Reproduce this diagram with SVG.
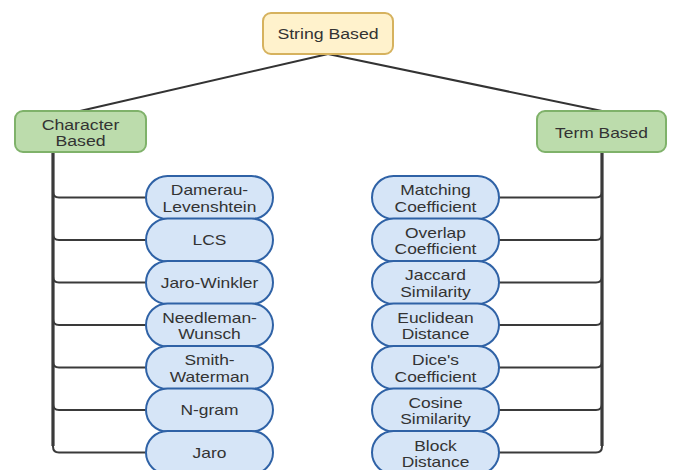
<svg xmlns="http://www.w3.org/2000/svg" width="673" height="470" viewBox="0 0 673 470">
<style>
.t{font-family:"Liberation Sans",Arial,sans-serif;font-size:15px;fill:#333;text-anchor:middle}
.root{fill:#fff2cc;stroke:#d6b25e;stroke-width:2}
.mid{fill:#bcdcac;stroke:#7fb26a;stroke-width:2}
.leaf{fill:#d6e5f7;stroke:#2f62a6;stroke-width:2}
.edge{fill:none;stroke:#333;stroke-width:2}
.br{fill:none;stroke:#3a3a3a;stroke-width:2}
.trunk{fill:none;stroke:#111;stroke-width:3}
</style>
<rect width="673" height="470" fill="#fff"/>
<g id="connectors">
<path class="edge" d="M328,54 L80,111"/>
<path class="edge" d="M328,54 L602,111"/>
<path class="trunk" d="M53,152 V446"/>
<path class="trunk" d="M602,152 V446"/>
<path class="br" d="M53,152 V191.5 Q53,197.5 59,197.5 H146"/>
<path class="br" d="M53,152 V234 Q53,240 59,240 H146"/>
<path class="br" d="M53,152 V276.5 Q53,282.5 59,282.5 H146"/>
<path class="br" d="M53,152 V319 Q53,325 59,325 H146"/>
<path class="br" d="M53,152 V361.5 Q53,367.5 59,367.5 H146"/>
<path class="br" d="M53,152 V404 Q53,410 59,410 H146"/>
<path class="br" d="M53,152 V446.5 Q53,452.5 59,452.5 H146"/>
<path class="br" d="M602,152 V191.5 Q602,197.5 596,197.5 H499"/>
<path class="br" d="M602,152 V234 Q602,240 596,240 H499"/>
<path class="br" d="M602,152 V276.5 Q602,282.5 596,282.5 H499"/>
<path class="br" d="M602,152 V319 Q602,325 596,325 H499"/>
<path class="br" d="M602,152 V361.5 Q602,367.5 596,367.5 H499"/>
<path class="br" d="M602,152 V404 Q602,410 596,410 H499"/>
<path class="br" d="M602,152 V446.5 Q602,452.5 596,452.5 H499"/>
</g>
<g id="string-based">
<rect class="root" x="263" y="13" width="130" height="41" rx="8"/>
<text class="t" transform="translate(328,0) scale(1.18,1)" x="0" y="39.5">String Based</text>
</g>
<g id="character-based">
<rect class="mid" x="15" y="111" width="131" height="41" rx="8"/>
<text class="t" transform="translate(80.5,0) scale(1.18,1)" x="0" y="130">Character</text>
<text class="t" transform="translate(80.5,0) scale(1.18,1)" x="0" y="146.5">Based</text>
</g>
<g id="term-based">
<rect class="mid" x="537" y="111" width="129" height="41" rx="8"/>
<text class="t" transform="translate(601.5,0) scale(1.16,1)" x="0" y="138">Term Based</text>
</g>
<g id="damerau-levenshtein">
<rect class="leaf" x="146" y="176" width="127" height="43" rx="21.5"/>
<text class="t" transform="translate(209.5,0) scale(1.16,1)" x="0" y="195.5">Damerau-</text>
<text class="t" transform="translate(209.5,0) scale(1.16,1)" x="0" y="212.5">Levenshtein</text>
</g>
<g id="lcs">
<rect class="leaf" x="146" y="218.5" width="127" height="43" rx="21.5"/>
<text class="t" transform="translate(209.5,0) scale(1.16,1)" x="0" y="245.5">LCS</text>
</g>
<g id="jaro-winkler">
<rect class="leaf" x="146" y="261" width="127" height="43" rx="21.5"/>
<text class="t" transform="translate(209.5,0) scale(1.16,1)" x="0" y="288">Jaro-Winkler</text>
</g>
<g id="needleman-wunsch">
<rect class="leaf" x="146" y="303.5" width="127" height="43" rx="21.5"/>
<text class="t" transform="translate(209.5,0) scale(1.16,1)" x="0" y="323">Needleman-</text>
<text class="t" transform="translate(209.5,0) scale(1.16,1)" x="0" y="339.5">Wunsch</text>
</g>
<g id="smith-waterman">
<rect class="leaf" x="146" y="346" width="127" height="43" rx="21.5"/>
<text class="t" transform="translate(209.5,0) scale(1.16,1)" x="0" y="365.5">Smith-</text>
<text class="t" transform="translate(209.5,0) scale(1.16,1)" x="0" y="382">Waterman</text>
</g>
<g id="n-gram">
<rect class="leaf" x="146" y="388.5" width="127" height="43" rx="21.5"/>
<text class="t" transform="translate(209.5,0) scale(1.16,1)" x="0" y="415.5">N-gram</text>
</g>
<g id="jaro">
<rect class="leaf" x="146" y="431" width="127" height="43" rx="21.5"/>
<text class="t" transform="translate(209.5,0) scale(1.16,1)" x="0" y="458">Jaro</text>
</g>
<g id="matching-coefficient">
<rect class="leaf" x="372" y="176" width="127" height="43" rx="21.5"/>
<text class="t" transform="translate(435.5,0) scale(1.16,1)" x="0" y="195.5">Matching</text>
<text class="t" transform="translate(435.5,0) scale(1.16,1)" x="0" y="212.5">Coefficient</text>
</g>
<g id="overlap-coefficient">
<rect class="leaf" x="372" y="218.5" width="127" height="43" rx="21.5"/>
<text class="t" transform="translate(435.5,0) scale(1.16,1)" x="0" y="238">Overlap</text>
<text class="t" transform="translate(435.5,0) scale(1.16,1)" x="0" y="254.5">Coefficient</text>
</g>
<g id="jaccard-similarity">
<rect class="leaf" x="372" y="261" width="127" height="43" rx="21.5"/>
<text class="t" transform="translate(435.5,0) scale(1.16,1)" x="0" y="280.5">Jaccard</text>
<text class="t" transform="translate(435.5,0) scale(1.16,1)" x="0" y="297">Similarity</text>
</g>
<g id="euclidean-distance">
<rect class="leaf" x="372" y="303.5" width="127" height="43" rx="21.5"/>
<text class="t" transform="translate(435.5,0) scale(1.16,1)" x="0" y="323">Euclidean</text>
<text class="t" transform="translate(435.5,0) scale(1.16,1)" x="0" y="339.5">Distance</text>
</g>
<g id="dices-coefficient">
<rect class="leaf" x="372" y="346" width="127" height="43" rx="21.5"/>
<text class="t" transform="translate(435.5,0) scale(1.16,1)" x="0" y="365.5">Dice's</text>
<text class="t" transform="translate(435.5,0) scale(1.16,1)" x="0" y="382">Coefficient</text>
</g>
<g id="cosine-similarity">
<rect class="leaf" x="372" y="388.5" width="127" height="43" rx="21.5"/>
<text class="t" transform="translate(435.5,0) scale(1.16,1)" x="0" y="408">Cosine</text>
<text class="t" transform="translate(435.5,0) scale(1.16,1)" x="0" y="424.5">Similarity</text>
</g>
<g id="block-distance">
<rect class="leaf" x="372" y="431" width="127" height="43" rx="21.5"/>
<text class="t" transform="translate(435.5,0) scale(1.16,1)" x="0" y="451">Block</text>
<text class="t" transform="translate(435.5,0) scale(1.16,1)" x="0" y="467.5">Distance</text>
</g>
</svg>
